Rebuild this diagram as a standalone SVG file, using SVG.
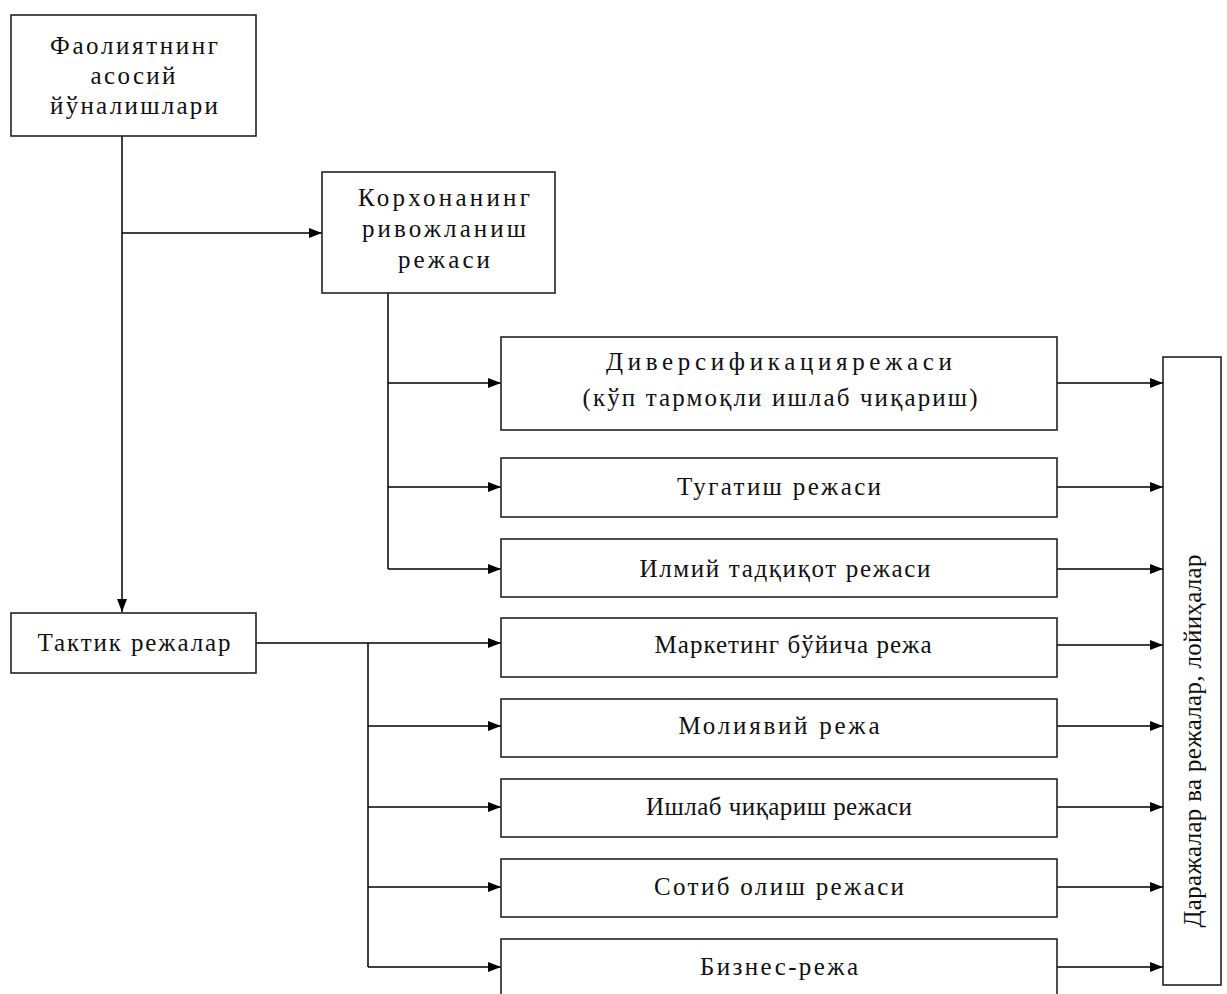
<svg xmlns="http://www.w3.org/2000/svg" width="1227" height="994" viewBox="0 0 1227 994">
<style>
.box{fill:#fff;stroke:#222;stroke-width:1.6}
.ln{fill:none;stroke:#000;stroke-width:1.5}
text{font-family:"Liberation Serif","DejaVu Serif",serif;font-size:25px;fill:#111;text-anchor:middle}
</style>
<defs>
<marker id="ah" viewBox="0 0 13 10" refX="13" refY="5" markerWidth="13" markerHeight="10" markerUnits="userSpaceOnUse" orient="auto">
<path d="M0,0 L13,5 L0,10 Z" fill="#000"/>
</marker>
</defs>
<rect width="1227" height="994" fill="#fff"/>
<g id="connectors">
<path class="ln" d="M122,136 V612" marker-end="url(#ah)"/>
<path class="ln" d="M122,233 H322" marker-end="url(#ah)"/>
<path class="ln" d="M388,293 V569"/>
<path class="ln" d="M388,383 H501" marker-end="url(#ah)"/>
<path class="ln" d="M388,487 H501" marker-end="url(#ah)"/>
<path class="ln" d="M388,569 H501" marker-end="url(#ah)"/>
<path class="ln" d="M256,643 H501" marker-end="url(#ah)"/>
<path class="ln" d="M368,643 V967"/>
<path class="ln" d="M368,726 H501" marker-end="url(#ah)"/>
<path class="ln" d="M368,807 H501" marker-end="url(#ah)"/>
<path class="ln" d="M368,887 H501" marker-end="url(#ah)"/>
<path class="ln" d="M368,967 H501" marker-end="url(#ah)"/>
<path class="ln" d="M1054,383 H1163" marker-end="url(#ah)"/>
<path class="ln" d="M1054,487 H1163" marker-end="url(#ah)"/>
<path class="ln" d="M1054,569 H1163" marker-end="url(#ah)"/>
<path class="ln" d="M1054,645 H1163" marker-end="url(#ah)"/>
<path class="ln" d="M1054,726 H1163" marker-end="url(#ah)"/>
<path class="ln" d="M1054,807 H1163" marker-end="url(#ah)"/>
<path class="ln" d="M1054,887 H1163" marker-end="url(#ah)"/>
<path class="ln" d="M1054,967 H1163" marker-end="url(#ah)"/>
</g>
<g id="n1">
<rect class="box" x="11" y="15" width="245" height="121"/>
<text x="134" y="54" textLength="168" lengthAdjust="spacing">Фаолиятнинг</text>
<text x="133" y="84" textLength="85" lengthAdjust="spacing">асосий</text>
<text x="134" y="114" textLength="168" lengthAdjust="spacing">йўналишлари</text>
</g>
<g id="n2">
<rect class="box" x="322" y="172" width="233" height="121"/>
<text x="444" y="206" textLength="172" lengthAdjust="spacing">Корхонанинг</text>
<text x="444" y="237" textLength="164" lengthAdjust="spacing">ривожланиш</text>
<text x="444" y="268" textLength="92" lengthAdjust="spacing">режаси</text>
</g>
<g id="n3">
<rect class="box" x="501" y="337" width="556" height="93"/>
<text x="779" y="370" textLength="346" lengthAdjust="spacing">Диверсификациярежаси</text>
<text x="780" y="406" textLength="395" lengthAdjust="spacing">(кўп тармоқли ишлаб чиқариш)</text>
</g>
<g id="n4">
<rect class="box" x="501" y="458" width="556" height="59"/>
<text x="779" y="495" textLength="204" lengthAdjust="spacing">Тугатиш режаси</text>
</g>
<g id="n5">
<rect class="box" x="501" y="539" width="556" height="58"/>
<text x="785" y="577" textLength="291" lengthAdjust="spacing">Илмий тадқиқот режаси</text>
</g>
<g id="n6">
<rect class="box" x="501" y="618" width="556" height="59"/>
<text x="793" y="653" textLength="277" lengthAdjust="spacing">Маркетинг бўйича режа</text>
</g>
<g id="n7">
<rect class="box" x="501" y="699" width="556" height="58"/>
<text x="779" y="734" textLength="201" lengthAdjust="spacing">Молиявий режа</text>
</g>
<g id="n8">
<rect class="box" x="501" y="779" width="556" height="58"/>
<text x="779" y="815" textLength="266" lengthAdjust="spacing">Ишлаб чиқариш режаси</text>
</g>
<g id="n9">
<rect class="box" x="501" y="859" width="556" height="58"/>
<text x="779" y="895" textLength="250" lengthAdjust="spacing">Сотиб олиш режаси</text>
</g>
<g id="n10">
<rect class="box" x="501" y="939" width="556" height="70"/>
<text x="779" y="975" textLength="158" lengthAdjust="spacing">Бизнес-режа</text>
</g>
<g id="n11">
<rect class="box" x="11" y="613" width="245" height="60"/>
<text x="134" y="651" textLength="193" lengthAdjust="spacing">Тактик режалар</text>
</g>
<g id="n12">
<rect class="box" x="1163" y="357" width="58" height="628"/>
<text x="0" y="0" transform="translate(1201,741) rotate(-90)" textLength="373" lengthAdjust="spacing">Даражалар ва режалар, лойиҳалар</text>
</g>
</svg>
